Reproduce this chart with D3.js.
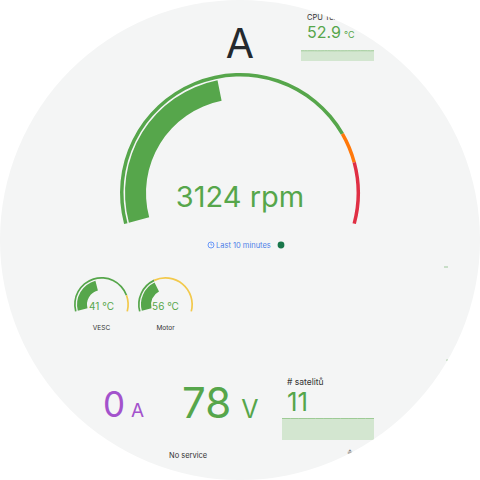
<!DOCTYPE html>
<html><head><meta charset="utf-8">
<script src="https://cdn.jsdelivr.net/npm/d3@7"></script>
<style>html,body{margin:0;padding:0;background:#fff;}svg{display:block;font-family:Inter,"Noto Sans",sans-serif;}</style>
</head><body>
<svg id="c" width="480" height="480"></svg>
<script>
// ---- data ----
const rpmValue = 3124;
const rpmMin = 0, rpmMax = 7000;
const rpmThresholds = [0, 5500, 6000];
const rpmThresholdColors = ["#56a64b", "#ff780a", "#e02f44"];
const gaugeNames = ["VESC", "Motor"];
const gaugeValues = [41, 56];
const gaugeMax = [95, 150];
const gaugeThresholds = [[0, 79], [0, 57]];
const gaugeThresholdColors = ["#56a64b", "#f2c94c"];
const cpuTitle = "CPU Temp";
const cpuTemp = 52.9;
const cpuSpark = [52.6, 52.8, 52.7, 52.9, 52.8, 52.6, 52.7, 52.9, 53.0, 52.8, 52.7, 52.8, 52.6, 52.7, 52.9, 52.8, 52.7, 52.8, 53.0, 52.9, 52.8, 52.7, 52.9];
const currentA = 0;
const voltageV = 78;
const satTitle = "# satelitů";
const satValue = 11;
const satSpark = [11, 11, 11, 11, 11, 11, 11, 11, 11, 11, 11, 11];
const timeLabel = "Last 10 minutes";
const headTitle = "A";
const serviceLabel = "No service";

// ---- drawing ----
const svg = d3.select("#c");
const defs = svg.append("defs");
defs.append("clipPath").attr("id", "circ").append("circle").attr("cx", 240).attr("cy", 240).attr("r", 240);
const g = svg.append("g").attr("clip-path", "url(#circ)");
g.append("rect").attr("width", 480).attr("height", 480).attr("fill", "#f4f5f5");

const A0 = -105 * Math.PI / 180, A1 = 105 * Math.PI / 180;
function drawGauge(cx, cy, value, min, max, thr, colors, rRing0, rRing1, rBar0, rBar1) {
  const sc = d3.scaleLinear().domain([min, max]).range([A0, A1]).clamp(true);
  const gg = g.append("g").attr("transform", `translate(${cx},${cy})`);
  const bounds = thr.map((t, i) => [t, i + 1 < thr.length ? thr[i + 1] : max]);
  gg.selectAll("path.ring").data(bounds).join("path").attr("class", "ring")
    .attr("d", d => d3.arc()({innerRadius: rRing0, outerRadius: rRing1, startAngle: sc(d[0]), endAngle: sc(d[1])}))
    .attr("fill", (d, i) => colors[i]);
  let ci = 0; thr.forEach((t, i) => { if (value >= t) ci = i; });
  gg.append("path")
    .attr("d", d3.arc()({innerRadius: rBar0, outerRadius: rBar1, startAngle: sc(min), endAngle: sc(value)}))
    .attr("fill", colors[ci]);
  return gg;
}

// title
g.append("text").attr("x", 240).attr("y", 58).attr("text-anchor", "middle")
  .attr("font-size", 41).attr("fill", "#24292e").text(headTitle);

// main gauge
const mg = drawGauge(240, 193, rpmValue, rpmMin, rpmMax, rpmThresholds, rpmThresholdColors, 116.5, 120, 94, 115);
mg.append("text").attr("x", 0).attr("y", 14).attr("text-anchor", "middle")
  .attr("font-size", 29).attr("fill", "#56a64b").text(rpmValue + " rpm");

// time label
const tl = g.append("g");
tl.append("circle").attr("cx", 211).attr("cy", 245).attr("r", 3).attr("fill", "none").attr("stroke", "#5b8ff9").attr("stroke-width", 0.9);
tl.append("path").attr("d", "M211,243.3V245H212.4").attr("fill", "none").attr("stroke", "#5b8ff9").attr("stroke-width", 0.8);
tl.append("text").attr("x", 216).attr("y", 248).attr("font-size", 7.5).attr("fill", "#4d7fe8").text(timeLabel);
tl.append("circle").attr("cx", 281).attr("cy", 245).attr("r", 3.4).attr("fill", "#19774a");

// small gauges
gaugeNames.forEach((name, i) => {
  const cx = 101.5 + i * 64, cy = 304.5;
  const sg = drawGauge(cx, cy, gaugeValues[i], 0, gaugeMax[i], gaugeThresholds[i], gaugeThresholdColors, 25.8, 27.5, 14.5, 24.5);
  sg.append("text").attr("x", 0).attr("y", 5).attr("text-anchor", "middle")
    .attr("font-size", 10).attr("fill", "#56a64b").text(gaugeValues[i] + " °C");
  g.append("text").attr("x", cx).attr("y", 330).attr("text-anchor", "middle")
    .attr("font-size", 6.5).attr("fill", "#333").text(name);
});

// CPU panel
g.append("text").attr("x", 307).attr("y", 20).attr("font-size", 7.5).attr("fill", "#333").text(cpuTitle);
const cpuT = g.append("text").attr("x", 307).attr("y", 38).attr("fill", "#56a64b");
cpuT.append("tspan").attr("font-size", 16).text(cpuTemp.toFixed(1));
cpuT.append("tspan").attr("font-size", 9).attr("dx", 3).text("°C");
const cx1 = d3.scaleLinear().domain([0, cpuSpark.length - 1]).range([301, 374]);
const cy1 = d3.scaleLinear().domain([0, 54]).range([61, 50.5]);
g.append("path").datum(cpuSpark)
  .attr("d", d3.area().x((d, i) => cx1(i)).y0(61).y1(d => cy1(d)))
  .attr("fill", "#d3e6d0");
g.append("path").datum(cpuSpark)
  .attr("d", d3.line().x((d, i) => cx1(i)).y(d => cy1(d)))
  .attr("fill", "none").attr("stroke", "#8cc283").attr("stroke-width", 0.8);

// bottom stats
const cur = g.append("text").attr("x", 103).attr("y", 417).attr("fill", "#a352cc");
cur.append("tspan").attr("font-size", 35).text(currentA);
cur.append("tspan").attr("font-size", 19).attr("dx", 6).text("A");
const vol = g.append("text").attr("x", 182).attr("y", 418).attr("fill", "#56a64b");
vol.append("tspan").attr("font-size", 42).text(voltageV);
vol.append("tspan").attr("font-size", 25).attr("dx", 10).text("V");
g.append("text").attr("x", 169).attr("y", 458).attr("font-size", 7.5).attr("fill", "#333").text(serviceLabel);

// satellites panel
g.append("text").attr("x", 287).attr("y", 385).attr("font-size", 8.5).attr("fill", "#333").text(satTitle);
g.append("text").attr("x", 287).attr("y", 411).attr("font-size", 26).attr("fill", "#56a64b").text(satValue);
const sx = d3.scaleLinear().domain([0, satSpark.length - 1]).range([282, 374]);
const sy = d3.scaleLinear().domain([0, 11]).range([440, 418.5]);
g.append("path").datum(satSpark)
  .attr("d", d3.area().x((d, i) => sx(i)).y0(440).y1(d => sy(d)))
  .attr("fill", "#d3e6d0");
g.append("path").datum(satSpark)
  .attr("d", d3.line().x((d, i) => sx(i)).y(d => sy(d)))
  .attr("fill", "none").attr("stroke", "#8cc283").attr("stroke-width", 0.8);
g.append("text").attr("x", 350).attr("y", 455).attr("text-anchor", "middle").attr("font-size", 7).attr("fill", "#777").text("≛");

// tiny marks on right side
g.append("line").attr("x1", 444).attr("x2", 448).attr("y1", 267).attr("y2", 267).attr("stroke", "#9cc79a").attr("stroke-width", 1);
g.append("rect").attr("x", 446.5).attr("y", 359.5).attr("width", 1.2).attr("height", 1.2).attr("fill", "#7fb87a");
</script>
</body></html>
